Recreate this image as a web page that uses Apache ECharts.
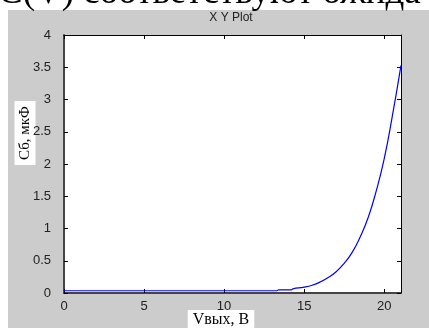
<!DOCTYPE html>
<html>
<head>
<meta charset="utf-8">
<script src="https://cdn.jsdelivr.net/npm/echarts@6/dist/echarts.min.js"></script>
<style>
  html, body { margin: 0; padding: 0; background: #fff; }
  #plot { width: 429px; height: 328px; }
</style>
</head>
<body>
<div id="plot"></div>
<script>
// напряжение, В
var vOut = [0, 5, 10, 13.3, 13.4, 14.2, 14.3, 15, 15.5, 16, 16.5, 17, 17.5, 18, 18.5, 19, 19.5, 20, 20.5, 21.05];
// емкость, мкФ
var cap = [0.035, 0.035, 0.035, 0.035, 0.05, 0.05, 0.065, 0.09, 0.12, 0.17, 0.24, 0.33, 0.46, 0.63, 0.87, 1.17, 1.58, 2.08, 2.73, 3.53];
var xTicks = [0, 5, 10, 15, 20];

var points = [];
for (i = 0; i < vOut.length; i++) {
    points.push([vOut[i], cap[i]]);
}

var serif = '"Liberation Serif", "DejaVu Serif", serif';
var sans = '"Liberation Sans", Arial, sans-serif';

var myChart = echarts.init(document.getElementById('plot'), null, {renderer: 'canvas'});

// оси - как в matlab, штрихи внутрь
function xAx(pos, labels) {
    return {
        type: 'value', position: pos, min: 0, max: 21.05, interval: 5,
        axisLine: {show: true, onZero: false, lineStyle: {color: pos == 'bottom' ? '#444' : '#000', width: pos == 'bottom' ? 2 : 1}},
        axisTick: {show: true, inside: true, length: 4, lineStyle: {color: '#000'}},
        axisLabel: {
            show: labels, color: '#222', fontFamily: sans, fontSize: 13, margin: 7,
            formatter: function (v) { return xTicks.indexOf(v) >= 0 ? String(v) : ''; }
        },
        splitLine: {show: false}
    };
}
function yAx(pos, labels) {
    return {
        type: 'value', position: pos, min: 0, max: 4, interval: 0.5,
        axisLine: {show: true, onZero: false, lineStyle: {color: pos == 'left' ? '#444' : '#000', width: pos == 'left' ? 2 : 1}},
        axisTick: {show: true, inside: true, length: 4, lineStyle: {color: '#000'}},
        axisLabel: {show: labels, color: '#222', fontFamily: sans, fontSize: 13, margin: 13},
        splitLine: {show: false}
    };
}

var option = {
    backgroundColor: '#fff',
    animation: false,
    grid: {left: 64, right: 28, top: 35, bottom: 35, show: true, backgroundColor: '#fff', borderWidth: 0},
    xAxis: [xAx('bottom', true), xAx('top', false)],
    yAxis: [yAx('left', true), yAx('right', false)],
    graphic: [
        {type: 'rect', z: -10, shape: {x: 8, y: 10, width: 421, height: 318}, style: {fill: '#cccccc'}},
        {type: 'text', left: -2, top: -25, z: -5, style: {text: 'C(V) соответствуют ожида', font: '37px ' + serif, fill: '#000'}},
        {type: 'text', x: 231, y: 18, style: {text: 'X Y Plot', font: '12px ' + sans, fill: '#222', align: 'center', verticalAlign: 'middle'}},
        {type: 'text', x: 221, y: 320, style: {text: 'Vвых, В', font: '16px ' + serif, fill: '#000', align: 'center', verticalAlign: 'middle', backgroundColor: '#fff', padding: [2, 5, 2, 5]}},
        {type: 'text', x: 25, y: 133, rotation: Math.PI / 2, style: {text: 'Сб, мкФ', font: '15px ' + serif, fill: '#000', align: 'center', verticalAlign: 'middle', backgroundColor: '#fff', padding: [3, 5, 3, 5]}}
    ],
    series: [{
        type: 'line', data: points, smooth: true, showSymbol: false,
        lineStyle: {color: '#0000ff', width: 1.2}
    }]
};
myChart.setOption(option);
</script>
</body>
</html>
